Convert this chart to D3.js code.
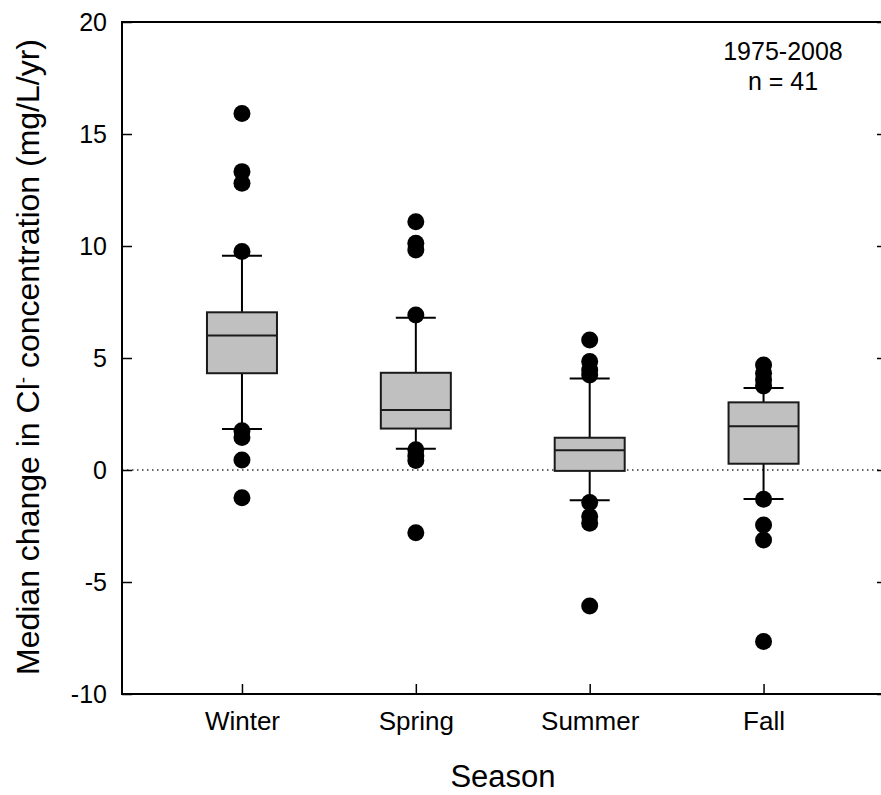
<!DOCTYPE html>
<html>
<head>
<meta charset="utf-8">
<script src="https://cdn.jsdelivr.net/npm/d3@7"></script>
<style>
  body { margin: 0; background: #fff; }
  svg { display: block; font-family: "Liberation Sans", Arial, sans-serif; }
  .axis path { display: none; }
  .axis line { stroke: #000; stroke-width: 1.5; }
  .axis text { fill: #000; }
</style>
</head>
<body>
<div id="chart"></div>
<script>
const seasons = ["Winter", "Spring", "Summer", "Fall"];
// box stats per season (10th / 25th / 50th / 75th / 90th percentile)
const p10 = [1.83, 0.95, -1.35, -1.29];
const q1 = [4.32, 1.85, -0.04, 0.28];
const median = [6.0, 2.68, 0.88, 1.95];
const q3 = [7.04, 4.34, 1.44, 3.02];
const p90 = [9.57, 6.8, 4.09, 3.66];
// points beyond the whiskers
const outliers = [
    [15.92, 13.32, 12.8, 9.75, 1.75, 1.45, 0.45, -1.24],
    [11.08, 10.12, 9.82, 6.92, 0.9, 0.62, 0.42, -2.8],
    [5.8, 4.84, 4.46, 4.24, -1.45, -2.08, -2.38, -6.07],
    [4.69, 4.32, 4.02, 3.75, -1.31, -2.46, -3.13, -7.66]
];
const yTicks = [-10, -5, 0, 5, 10, 15, 20];

const width = 881;
const height = 795;
const margin = { top: 22, left: 122, right: -6, bottom: 101 };

const x = d3.scaleLinear()
    .domain([0.31, 4.71])
    .range([margin.left, width - margin.right]);

const y = d3.scaleLinear()
    .domain([-10, 20])
    .range([height - margin.bottom, margin.top]);

const svg = d3.select("#chart")
    .append("svg")
    .attr("width", width)
    .attr("height", height);

// zero reference line
svg.append("line")
    .attr("x1", x.range()[0])
    .attr("x2", x.range()[1])
    .attr("y1", y(0))
    .attr("y2", y(0))
    .attr("stroke", "#333")
    .attr("stroke-width", 1.5)
    .attr("stroke-dasharray", "1.5,3.5");

// Axes (ticks point inward), plain hyphen for negatives
svg.append("g")
    .attr("class", "axis")
    .attr("transform", `translate(${margin.left},0)`)
    .call(d3.axisLeft(y).tickValues(yTicks).tickSize(-10).tickPadding(15)
        .tickFormat(d => String(d)))
    .selectAll("text")
    .style("font-size", "25px");

svg.append("g")
    .attr("class", "axis")
    .attr("transform", `translate(${width - margin.right},0)`)
    .call(d3.axisRight(y).tickValues(yTicks).tickSize(-10).tickFormat(""));

svg.append("g")
    .attr("class", "axis")
    .attr("transform", `translate(0,${height - margin.bottom})`)
    .call(d3.axisBottom(x).tickValues([1, 2, 3, 4]).tickSize(-10).tickPadding(18)
        .tickFormat(d => seasons[d - 1]))
    .selectAll("text")
    .style("font-size", "26px");

// frame
svg.append("rect")
    .attr("x", margin.left)
    .attr("y", margin.top)
    .attr("width", x.range()[1] - margin.left)
    .attr("height", y.range()[0] - margin.top)
    .attr("fill", "none")
    .attr("stroke", "#000")
    .attr("stroke-width", 2);

const boxW = 70;
const capW = 40;

seasons.forEach((s, i) => {
    const cx = x(i + 1);
    const g = svg.append("g");

    // whiskers
    g.append("line")
        .attr("x1", cx).attr("x2", cx)
        .attr("y1", y(p90[i])).attr("y2", y(q3[i]))
        .attr("stroke", "#000").attr("stroke-width", 2);
    g.append("line")
        .attr("x1", cx).attr("x2", cx)
        .attr("y1", y(q1[i])).attr("y2", y(p10[i]))
        .attr("stroke", "#000").attr("stroke-width", 2);
    [p10[i], p90[i]].forEach(v => {
        g.append("line")
            .attr("x1", cx - capW / 2).attr("x2", cx + capW / 2)
            .attr("y1", y(v)).attr("y2", y(v))
            .attr("stroke", "#000").attr("stroke-width", 2);
    });

    // box
    g.append("rect")
        .attr("x", cx - boxW / 2)
        .attr("y", y(q3[i]))
        .attr("width", boxW)
        .attr("height", y(q1[i]) - y(q3[i]))
        .attr("fill", "#c0c0c0")
        .attr("stroke", "#1a1a1a")
        .attr("stroke-width", 2);
    g.append("line")
        .attr("x1", cx - boxW / 2).attr("x2", cx + boxW / 2)
        .attr("y1", y(median[i])).attr("y2", y(median[i]))
        .attr("stroke", "#1a1a1a").attr("stroke-width", 2);

    // outliers
    g.selectAll("circle")
        .data(outliers[i])
        .join("circle")
        .attr("cx", cx)
        .attr("cy", d => y(d))
        .attr("r", 8.5)
        .attr("fill", "#000");
});

// annotation
const note = svg.append("text")
    .attr("x", 783)
    .attr("text-anchor", "middle")
    .style("font-size", "25px");
note.append("tspan").attr("x", 783).attr("y", 60).text("1975-2008");
note.append("tspan").attr("x", 783).attr("y", 90).text("n = 41");

// axis titles
svg.append("text")
    .attr("x", 503)
    .attr("y", 787)
    .attr("text-anchor", "middle")
    .style("font-size", "31px")
    .text("Season");

const yTitle = svg.append("text")
    .attr("transform", `translate(39,357) rotate(-90)`)
    .attr("text-anchor", "middle")
    .style("font-size", "32px");
yTitle.append("tspan").text("Median change in Cl");
yTitle.append("tspan").attr("baseline-shift", "super").style("font-size", "19px").text("-");
yTitle.append("tspan").text(" concentration (mg/L/yr)");
</script>
</body>
</html>
